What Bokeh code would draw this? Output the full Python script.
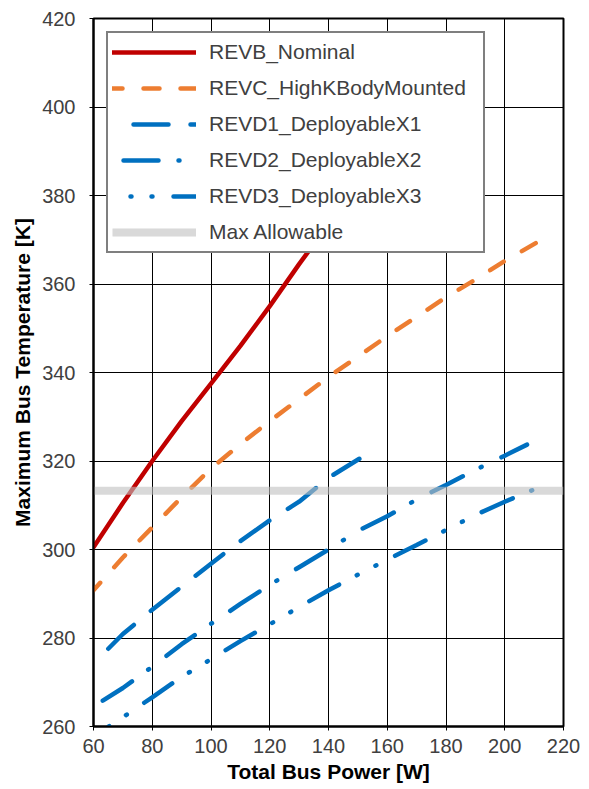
from bokeh.plotting import figure
from bokeh.models import Range1d, Legend, LegendItem, FixedTicker
from bokeh.embed import file_html
from bokeh.resources import INLINE

# ---- data ----
x_ticks = [60, 80, 100, 120, 140, 160, 180, 200, 220]
y_ticks = [260, 280, 300, 320, 340, 360, 380, 400, 420]

power_revb = [60, 70, 80, 90, 100, 110, 120, 130, 140]
temp_revb = [300.5, 310.5, 320.0, 329.0, 337.5, 346.0, 355.0, 364.5, 373.5]

power_revc = [60, 70, 80, 90, 100, 110, 120, 130, 140, 150, 160, 170, 180, 190, 200, 212]
temp_revc = [290.8, 298.2, 305.0, 311.8, 318.3, 323.8, 329.0, 334.0, 339.0,
             343.6, 348.2, 352.6, 357.0, 361.0, 365.2, 369.8]

power_revd1 = [60, 70, 80, 90, 100, 110, 120, 130, 140, 150.5]
temp_revd1 = [274.2, 280.9, 286.4, 291.6, 296.8, 301.9, 306.6, 310.8, 316.2, 320.5]

power_revd2 = [60, 70, 80, 90, 100, 110, 120, 130, 140, 150, 160, 170, 180, 190, 200, 207.6]
temp_revd2 = [264.5, 268.7, 273.5, 278.6, 283.2, 287.7, 292.0, 296.0, 300.0,
              304.2, 307.5, 311.3, 314.6, 318.0, 321.2, 323.7]

power_revd3 = [60, 70, 80, 90, 100, 110, 120, 130, 140, 150, 160, 170, 180, 190, 200, 210.1]
temp_revd3 = [257.7, 262.1, 266.6, 271.2, 275.2, 279.3, 283.1, 287.0, 290.8,
              294.3, 297.7, 301.0, 304.4, 307.8, 310.8, 313.6]

power_limits = [60, 220]
max_allowable = [313.3, 313.3]

labels = ["REVB_Nominal", "REVC_HighKBodyMounted", "REVD1_DeployableX1",
          "REVD2_DeployableX2", "REVD3_DeployableX3", "Max Allowable"]

FONT = "Liberation Sans"
LW = 4.5

p = figure(width=589, height=789, output_backend="svg", toolbar_location=None,
           x_range=Range1d(60, 220), y_range=Range1d(260, 420),
           min_border_left=93, min_border_right=26, min_border_top=18, min_border_bottom=63,
           x_axis_label="Total Bus Power [W]", y_axis_label="Maximum Bus Temperature [K]")
p.background_fill_color = "white"
p.border_fill_color = "white"
p.outline_line_color = "black"
p.outline_line_width = 2

r_b = p.line(power_revb, temp_revb, line_color="#C00000", line_width=LW, line_cap="round")
r_c = p.line(power_revc, temp_revc, line_color="#ED7D31", line_width=LW, line_cap="round",
             line_dash="16 21", line_dash_offset=6)
r_d1 = p.line(power_revd1, temp_revd1, line_color="#0070C0", line_width=LW, line_cap="round",
              line_dash="35 22", line_dash_offset=36)
r_d2 = p.line(power_revd2, temp_revd2, line_color="#0070C0", line_width=LW, line_cap="round",
              line_dash="35 20 1 22", line_dash_offset=67)
r_d3 = p.line(power_revd3, temp_revd3, line_color="#0070C0", line_width=LW, line_cap="round",
              line_dash="34 20 1 20 1 21", line_dash_offset=36)
r_max = p.line(power_limits, max_allowable, line_color="#BFBFBF", line_alpha=0.6, line_width=8)

legend = Legend(items=[LegendItem(label=l, renderers=[r]) for l, r in
                       zip(labels, [r_b, r_c, r_d1, r_d2, r_d3, r_max])],
                location="top_left", margin=13, padding=4, spacing=6,
                glyph_height=30, label_height=30, glyph_width=84, label_standoff=13,
                label_width=270,
                border_line_color="black", border_line_width=2,
                background_fill_color="white", background_fill_alpha=1,
                label_text_font=FONT, label_text_font_size="21px",
                label_text_color="#404040")
p.add_layout(legend)

p.xaxis.ticker = FixedTicker(ticks=x_ticks)
p.yaxis.ticker = FixedTicker(ticks=y_ticks)
for ax in (p.xaxis[0], p.yaxis[0]):
    ax.major_label_text_font = FONT
    ax.major_label_text_font_size = "20px"
    ax.major_label_text_color = "#404040"
    ax.axis_label_text_font = FONT
    ax.axis_label_text_font_size = "21px"
    ax.axis_label_text_font_style = "bold"
    ax.axis_label_text_color = "black"
    ax.minor_tick_line_color = None
    ax.major_tick_in = 0
    ax.major_tick_out = 4
    ax.major_tick_line_color = "black"
    ax.axis_line_color = "black"
    ax.axis_line_width = 2
p.xaxis.major_label_standoff = 8
p.yaxis.major_label_standoff = 14
p.xaxis.axis_label_standoff = 4
p.yaxis.axis_label_standoff = 5

for g in (p.xgrid[0], p.ygrid[0]):
    g.grid_line_color = "black"
    g.grid_line_width = 1
    g.grid_line_alpha = 1
p.xgrid.ticker = FixedTicker(ticks=x_ticks)
p.ygrid.ticker = FixedTicker(ticks=y_ticks)

open("out.html", "w").write(file_html(p, INLINE))
